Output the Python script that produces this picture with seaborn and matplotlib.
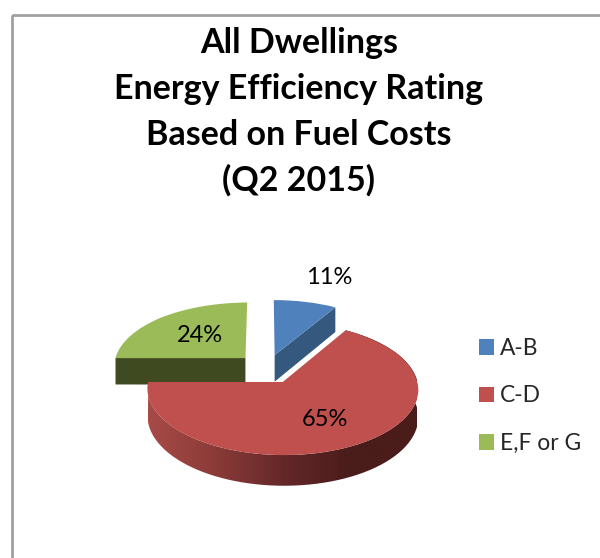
import numpy as np
import matplotlib
matplotlib.use("Agg")
import matplotlib.pyplot as plt
import seaborn as sns
from matplotlib.colors import LinearSegmentedColormap
from matplotlib.path import Path
from matplotlib.patches import Rectangle
from matplotlib.transforms import Transform, Affine2D

categories = ["A-B", "C-D", "E,F or G"]
shares = [11, 65, 24]
title_lines = ["All Dwellings", "Energy Efficiency Rating", "Based on Fuel Costs", "(Q2 2015)"]

sns.set_theme(style="white")
plt.rcParams["font.family"] = ["Lato", "DejaVu Sans"]
top_colors = sns.color_palette(["#4F81BD", "#C0504D", "#9BBB59"])

PX0, PY0, A, B, K, D = 271.0, 369.0, 132.0, 63.0, 0.10, 27.0
NUDGE = [(-6.0, -1.0), (0.0, 0.0), (-6.0, -1.0)]
# foreshortening of the tilted 3D view: angle on the disc -> angle drawn
VIEW_IN = [-180.0, -90.0, 0.0, 50.4, 90.0, 176.4, 180.0]
VIEW_OUT = [-176.5, -90.0, 0.0, 59.0, 90.0, 180.0, 183.5]


class Persp(Transform):
    input_dims = 2
    output_dims = 2

    def __init__(self, center):
        super().__init__()
        self.center = np.asarray(center, float)

    def transform_non_affine(self, xy):
        xy = np.asarray(xy, float)
        loc = xy - self.center
        r = np.hypot(loc[:, 0], loc[:, 1])
        th = np.degrees(np.arctan2(loc[:, 1], loc[:, 0]))
        th = np.radians(np.interp(th, VIEW_IN, VIEW_OUT))
        u = self.center[0] + r * np.cos(th)
        v = self.center[1] + r * np.sin(th)
        w = 1 + K * v
        return np.column_stack([PX0 + A * u / w, PY0 - B * v / w])


fig = plt.figure(figsize=(6.0, 5.58), dpi=100)
ax = fig.add_axes([0, 0, 1, 1])
wedges, _, autotexts = ax.pie(
    shares, startangle=90, counterclock=False, explode=[0.22] * 3,
    colors=top_colors, autopct=lambda p: f"{p:.0f}%",
    wedgeprops=dict(linewidth=0),
)
ax.set_aspect("auto")
ax.set_xlim(0, 600)
ax.set_ylim(558, 0)
ax.axis("off")

transforms = []
for wedge, (nx, ny) in zip(wedges, NUDGE):
    t = Persp(wedge.center) + Affine2D().translate(nx, ny)
    transforms.append(t)
    wedge.set_transform(t + ax.transData)
    wedge.set_zorder(5)


def ring(wedge, t, a1, a2):
    ang = np.radians(np.linspace(a1, a2, 160))
    pts = np.column_stack([wedge.center[0] + wedge.r * np.cos(ang),
                           wedge.center[1] + wedge.r * np.sin(ang)])
    return t.transform(pts), 1 + K * pts[:, 1]


def extrude(top, w):
    return top + np.column_stack([np.zeros(len(w)), D / w])


blue, green, red = wedges[0], wedges[2], wedges[1]
tb, tr, tg = transforms[0], transforms[1], transforms[2]

# blue cut face (apex to outer corner)
c = np.array(blue.center)
rim = np.radians(blue.theta1)
seg = np.array([c, c + blue.r * np.array([np.cos(rim), np.sin(rim)])])
top = tb.transform(seg)
bot = extrude(top, 1 + K * seg[:, 1])
ax.fill(np.r_[top[:, 0], bot[::-1, 0]], np.r_[top[:, 1], bot[::-1, 1]],
        color="#35587F", lw=0, zorder=2)

# green cut face (outer corner to apex)
c = np.array(green.center)
rim = np.radians(green.theta2)
seg = np.array([c, c + green.r * np.array([np.cos(rim), np.sin(rim)])])
top = tg.transform(seg)
bot = extrude(top, 1 + K * seg[:, 1])
ax.fill(np.r_[top[:, 0], bot[::-1, 0]], np.r_[top[:, 1], bot[::-1, 1]],
        color="#3F4A20", lw=0, zorder=1)

# red outer wall with a horizontal gradient
top, w = ring(red, tr, red.theta1, red.theta2)
bot = extrude(top, w)
poly = np.vstack([top, bot[::-1], top[:1]])
cmap = LinearSegmentedColormap.from_list("wall", ["#A84A47", "#8A3B38", "#65282A", "#4A1C1A", "#4A1C1A"])
grad = np.linspace(0, 1, 256).reshape(1, -1)
im = ax.imshow(grad, cmap=cmap, extent=(148, 417, 500, 330), aspect="auto", zorder=3)
im.set_clip_path(Path(poly), transform=ax.transData)
ax.set_xlim(0, 600)
ax.set_ylim(558, 0)

# percentage labels
for txt, pos in zip(autotexts, [(329, 277), (325, 419), (200, 335)]):
    txt.set_position(pos)
    txt.set_ha("center")
    txt.set_va("center")
    txt.set_fontsize(17)
    txt.set_color("black")
    txt.set_zorder(7)

# title
for line, y in zip(title_lines, [43, 89, 135, 180]):
    ax.text(299, y, line, ha="center", va="center", fontsize=24.5,
            fontweight="bold", color="black", zorder=7)

# legend
ax.legend(wedges, categories, loc="upper left", bbox_to_anchor=(479 / 600, 1 - 338 / 558),
          frameon=False, fontsize=16.4, handlelength=0.66, handleheight=0.66,
          handletextpad=0.26, labelspacing=1.16, borderpad=0, borderaxespad=0)

# chart frame
ax.add_patch(Rectangle((12, 15), 600, 600, fill=False, ec="#A0A0A0", lw=2, zorder=0))

fig.savefig("out.png", dpi=100)
